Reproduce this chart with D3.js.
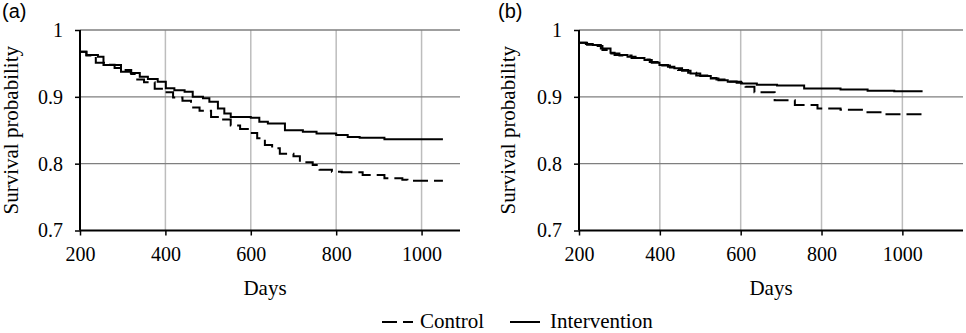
<!DOCTYPE html>
<html>
<head>
<meta charset="utf-8">
<script src="https://cdn.jsdelivr.net/npm/d3@7"></script>
<style>
  body { margin: 0; background: #fff; }
  svg { display: block; }
</style>
</head>
<body>
<svg id="chart" width="966" height="333"></svg>
<script>
// Panel (a) data (Kaplan-Meier steps)
const daysCtrlA = [200, 215, 237, 260, 281, 300, 320, 331, 350, 375, 395, 418, 440, 460, 480, 507, 530, 553, 575, 598, 615, 633, 650, 668, 700, 715, 745, 761, 790, 813, 862, 913, 955, 967, 1050];
const survCtrlA = [0.9675, 0.962, 0.951, 0.948, 0.943, 0.940, 0.934, 0.926, 0.922, 0.912, 0.907, 0.899, 0.894, 0.884, 0.879, 0.870, 0.866, 0.857, 0.852, 0.846, 0.838, 0.828, 0.823, 0.815, 0.811, 0.802, 0.798, 0.791, 0.788, 0.787, 0.783, 0.778, 0.776, 0.7745, 0.7745];
const daysIntA = [200, 215, 242, 255, 296, 319, 340, 359, 382, 401, 421, 445, 464, 488, 503, 523, 538, 553, 600, 620, 640, 680, 722, 754, 800, 827, 855, 913, 1050];
const survIntA = [0.9675, 0.9626, 0.960, 0.9476, 0.9376, 0.9356, 0.930, 0.9266, 0.9226, 0.913, 0.910, 0.9077, 0.900, 0.8977, 0.8927, 0.8827, 0.8752, 0.870, 0.8687, 0.8627, 0.860, 0.850, 0.8477, 0.8453, 0.843, 0.840, 0.8388, 0.8364, 0.8364];

// Panel (b) data
const daysCtrlB = [200, 220, 240, 258, 275, 300, 330, 355, 375, 400, 425, 445, 470, 490, 520, 540, 560, 590, 612, 634, 684, 734, 790, 847, 906, 955, 1050];
const survCtrlB = [0.981, 0.978, 0.976, 0.970, 0.965, 0.962, 0.958, 0.956, 0.952, 0.947, 0.944, 0.940, 0.936, 0.932, 0.928, 0.926, 0.923, 0.921, 0.915, 0.907, 0.895, 0.8876, 0.8826, 0.8806, 0.877, 0.874, 0.874];
const daysIntB = [200, 217, 234, 254, 278, 288, 320, 340, 362, 380, 399, 420, 436, 455, 476, 500, 526, 545, 568, 601, 640, 690, 757, 847, 914, 980, 1050];
const survIntB = [0.981, 0.979, 0.9775, 0.9725, 0.966, 0.9625, 0.960, 0.958, 0.955, 0.951, 0.9475, 0.945, 0.9426, 0.939, 0.935, 0.931, 0.9276, 0.925, 0.9226, 0.920, 0.918, 0.917, 0.9126, 0.911, 0.909, 0.9085, 0.9085];

const xTicks = [200, 400, 600, 800, 1000];
const yTicks = [0.7, 0.8, 0.9, 1];
const seriesNames = ["Control", "Intervention"];

const svg = d3.select("#chart");
const serif = "'Liberation Serif', 'Times New Roman', serif";

const panels = [
  { label: "(a)", labelX: 2, left: 80, right: 460, xMax: 1090, ylabX: 18, daysX: 265,
    ctrl: d3.zip(daysCtrlA, survCtrlA), int: d3.zip(daysIntA, survIntA) },
  { label: "(b)", labelX: 498, left: 579, right: 963, xMax: 1150, ylabX: 515, daysX: 771,
    ctrl: d3.zip(daysCtrlB, survCtrlB), int: d3.zip(daysIntB, survIntB) }
];

const plotTop = 30, plotBottom = 230.5;

panels.forEach((p) => {
  const x = d3.scaleLinear().domain([200, p.xMax]).range([p.left, p.right]);
  const y = d3.scaleLinear().domain([0.7, 1]).range([plotBottom, plotTop]);
  const g = svg.append("g");

  // vertical gridlines
  g.selectAll(".vgrid")
    .data(xTicks.filter((d) => d > 200))
    .enter()
    .append("line")
    .attr("x1", (d) => x(d)).attr("x2", (d) => x(d))
    .attr("y1", plotTop).attr("y2", plotBottom)
    .attr("stroke", "#bdbdbd")
    .attr("stroke-width", 1.5);

  // horizontal gridlines
  g.selectAll(".hgrid")
    .data(yTicks.filter((d) => d > 0.7))
    .enter()
    .append("line")
    .attr("x1", p.left).attr("x2", p.right)
    .attr("y1", (d) => y(d)).attr("y2", (d) => y(d))
    .attr("stroke", "#7f7f7f")
    .attr("stroke-width", 1.3);

  // y axis
  const yAxis = g.append("g")
    .attr("transform", `translate(${p.left},0)`)
    .call(d3.axisLeft(y).tickValues(yTicks).tickSize(5).tickPadding(12)
      .tickFormat((d) => (d === 1 ? "1" : d3.format(".1f")(d))));
  yAxis.select(".domain").attr("stroke", "#000").attr("stroke-width", 2)
    .attr("d", `M0,${plotTop}V${plotBottom}`);
  yAxis.selectAll(".tick line").attr("stroke", "#000").attr("stroke-width", 1.5);
  yAxis.selectAll("text").attr("font-family", serif).attr("font-size", 20).attr("fill", "#000");

  // x axis
  const xAxis = g.append("g")
    .attr("transform", `translate(0,${plotBottom})`)
    .call(d3.axisBottom(x).tickValues(xTicks).tickSize(5).tickPadding(11)
      .tickFormat(d3.format("d")));
  xAxis.select(".domain").attr("stroke", "#000").attr("stroke-width", 2)
    .attr("d", `M${p.left},0H${p.right}`);
  xAxis.selectAll(".tick line").attr("stroke", "#000").attr("stroke-width", 1.5);
  xAxis.selectAll("text").attr("font-family", serif).attr("font-size", 20).attr("fill", "#000");

  const line = d3.line()
    .curve(d3.curveStepAfter)
    .x((d) => x(d[0]))
    .y((d) => y(d[1]));

  g.append("path")
    .datum(p.int)
    .attr("fill", "none")
    .attr("stroke", "#000")
    .attr("stroke-width", 2)
    .attr("d", line);

  g.append("path")
    .datum(p.ctrl)
    .attr("fill", "none")
    .attr("stroke", "#000")
    .attr("stroke-width", 2)
    .attr("stroke-dasharray", "15,6")
    .attr("d", line);

  // axis titles
  g.append("text")
    .attr("transform", `translate(${p.ylabX},${(plotTop + plotBottom) / 2}) rotate(-90)`)
    .attr("text-anchor", "middle")
    .attr("font-family", serif)
    .attr("font-size", 21)
    .text("Survival probability");

  g.append("text")
    .attr("x", p.daysX)
    .attr("y", 295)
    .attr("text-anchor", "middle")
    .attr("font-family", serif)
    .attr("font-size", 21)
    .text("Days");

  // panel label
  g.append("text")
    .attr("x", p.labelX)
    .attr("y", 18)
    .attr("font-family", "'Liberation Sans', Arial, sans-serif")
    .attr("font-size", 20)
    .text(p.label);
});

// legend
const legend = svg.append("g").attr("transform", "translate(382,322)");
const legendItems = [
  { name: seriesNames[0], dash: "15,6", x0: 0, x1: 31, tx: 38 },
  { name: seriesNames[1], dash: null, x0: 128, x1: 158, tx: 168 }
];
legendItems.forEach((d) => {
  legend.append("line")
    .attr("x1", d.x0).attr("x2", d.x1)
    .attr("y1", 0).attr("y2", 0)
    .attr("stroke", "#000")
    .attr("stroke-width", 2)
    .attr("stroke-dasharray", d.dash);
  legend.append("text")
    .attr("x", d.tx)
    .attr("y", 6)
    .attr("font-family", serif)
    .attr("font-size", 21)
    .text(d.name);
});
</script>
</body>
</html>
